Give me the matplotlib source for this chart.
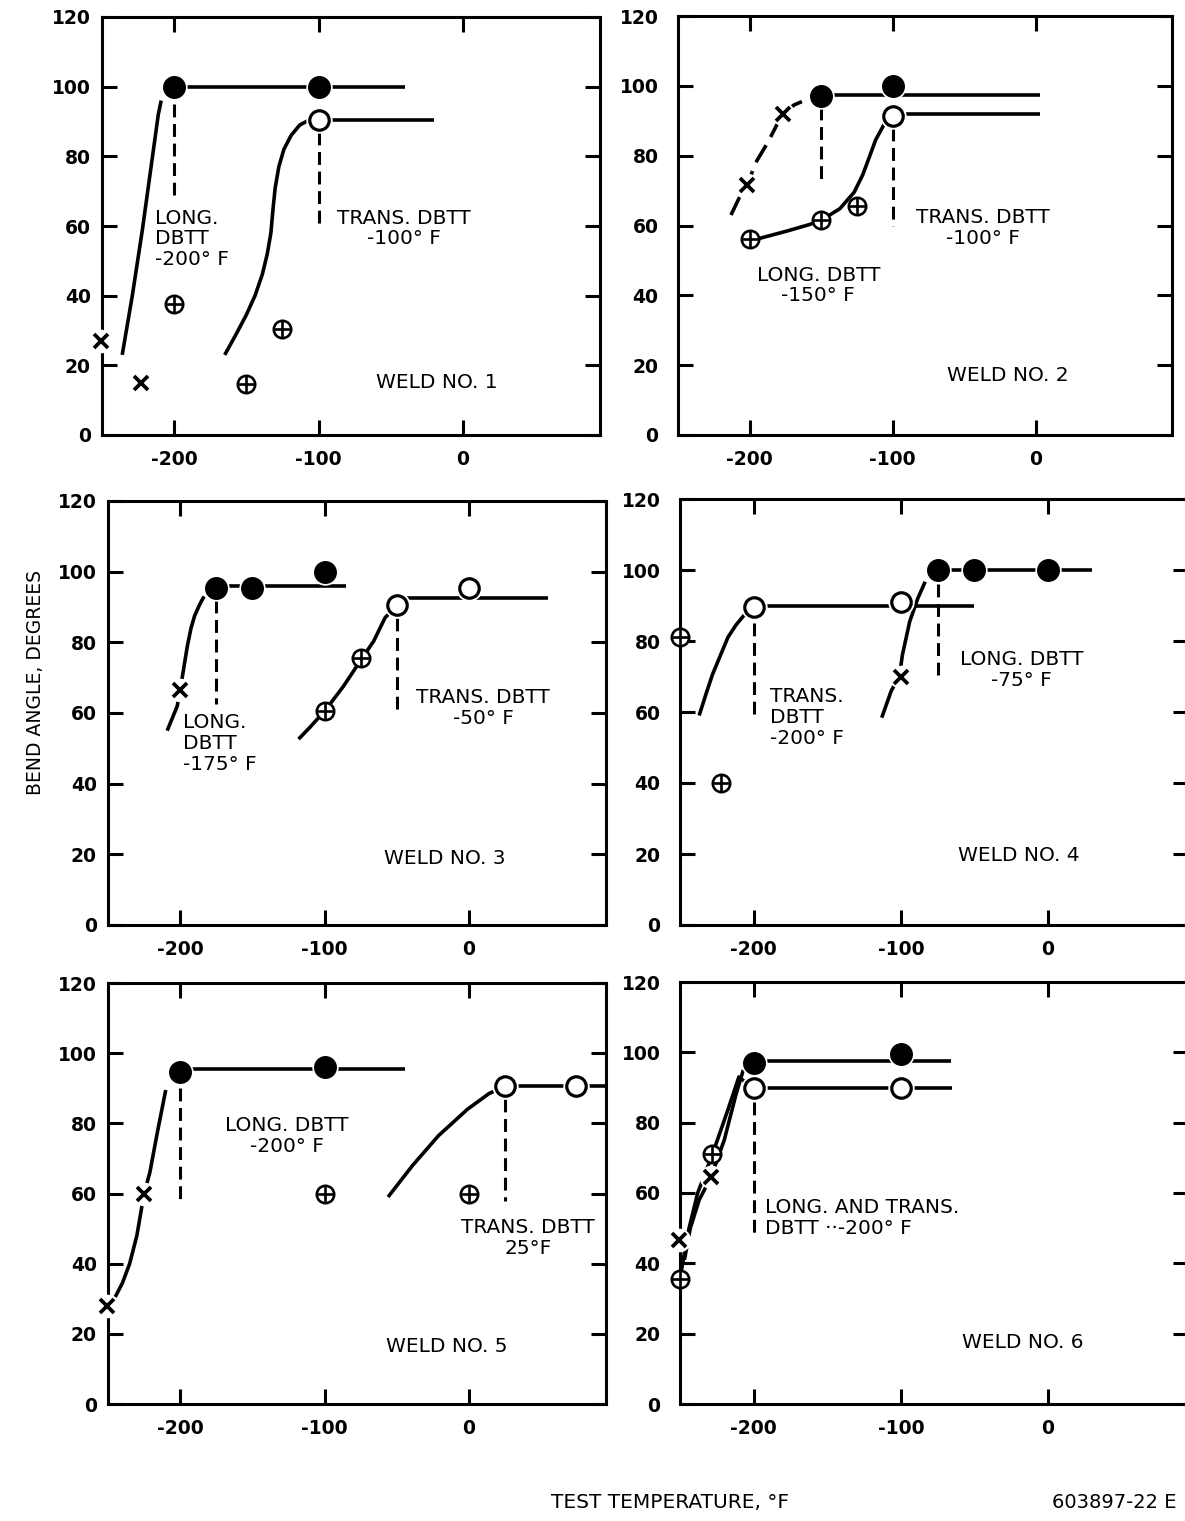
import matplotlib
matplotlib.use("Agg")
import matplotlib.pyplot as plt

plt.rcParams['font.family'] = ['DejaVu Sans']
plt.rcParams['axes.unicode_minus'] = False

# ---------------- data ----------------
XTICKS = [-200, -100, 0]
YTICKS = [0, 20, 40, 60, 80, 100, 120]
XLIM = (-250, 95)
YLIM = (0, 120)

# Weld 1
w1_long_ok_x = [-200, -100]; w1_long_ok_y = [100, 100]
w1_long_cr_x = [-251, -223]; w1_long_cr_y = [27, 15]
w1_trans_ok_x = [-100]; w1_trans_ok_y = [90.5]
w1_trans_cr_x = [-200, -150, -125]; w1_trans_cr_y = [37.5, 14.6, 30.5]
w1_long_curve_x = [-236, -229, -222, -215, -211, -209]; w1_long_curve_y = [23, 40, 59, 80, 92, 96]
w1_long_shelf_x = [-200, -40]; w1_long_shelf_y = [100, 100]
w1_trans_curve_x = [-165, -157, -150, -144, -139, -135.5, -133, -131.5, -130,
                    -127.5, -124, -119, -113, -107, -102]
w1_trans_curve_y = [23, 29, 34.5, 40, 46, 52, 58, 65, 71, 77, 82, 86, 89, 90.3, 90.8]
w1_trans_shelf_x = [-100, -20]; w1_trans_shelf_y = [90.5, 90.5]
w1_dbtt_x = [-200, -100]; w1_dbtt_top = [95, 87]; w1_dbtt_bot = [69, 60]

# Weld 2
w2_long_ok_x = [-150, -100]; w2_long_ok_y = [97, 100]
w2_long_cr_x = [-202, -177]; w2_long_cr_y = [71.5, 92]
w2_trans_ok_x = [-100]; w2_trans_ok_y = [91.5]
w2_trans_cr_x = [-200, -150, -125]; w2_trans_cr_y = [56, 61.5, 65.5]
w2_long_curve_x = [-213, -206, -202, -195, -187, -177, -169, -159, -150]
w2_long_curve_y = [63, 69, 71.5, 78.5, 84, 92, 94.5, 96.3, 97]
w2_long_shelf_x = [-150, 3]; w2_long_shelf_y = [97.5, 97.5]
w2_trans_curve_x = [-200, -195, -174, -158, -150, -137, -127, -121, -116, -112, -106, -100]
w2_trans_curve_y = [56, 56.1, 58.4, 60.3, 61.5, 64.8, 69.5, 74.5, 80, 84.5, 89, 91.5]
w2_trans_shelf_x = [-100, 3]; w2_trans_shelf_y = [92, 92]
w2_dbtt_x = [-150, -100]; w2_dbtt_top = [94, 88]; w2_dbtt_bot = [71.5, 60]

# Weld 3
w3_long_ok_x = [-175, -150, -100]; w3_long_ok_y = [95.5, 95.5, 100]
w3_long_cr_x = [-200]; w3_long_cr_y = [66.5]
w3_trans_ok_x = [-50, 0]; w3_trans_ok_y = [90.5, 95.5]
w3_trans_cr_x = [-100, -75]; w3_trans_cr_y = [60.5, 75.5]
w3_long_curve_x = [-209, -202, -199, -197, -195, -192.5, -190, -186.5, -183.5]
w3_long_curve_y = [55, 62, 69, 74, 79, 84, 87.5, 90.7, 93]
w3_long_shelf_x = [-175, -85]; w3_long_shelf_y = [96, 96]
w3_trans_curve_x = [-118, -110, -100, -87, -74, -66, -58, -49.5]
w3_trans_curve_y = [52.6, 56, 60.5, 67.5, 75.5, 80.3, 87, 90.5]
w3_trans_shelf_x = [-50, 55]; w3_trans_shelf_y = [92.5, 92.5]
w3_dbtt_x = [-175, -50]; w3_dbtt_top = [92, 87]; w3_dbtt_bot = [62.5, 60.5]

# Weld 4
w4_long_ok_x = [-75, -50, 0]; w4_long_ok_y = [100, 100, 100]
w4_long_cr_x = [-100]; w4_long_cr_y = [70]
w4_trans_ok_x = [-200, -100]; w4_trans_ok_y = [89.5, 91]
w4_trans_cr_x = [-250, -222]; w4_trans_cr_y = [81, 40]
w4_long_curve_x = [-113, -106.5, -101, -99, -94, -88.5, -83.5]
w4_long_curve_y = [58.4, 66, 70, 76, 85.5, 92, 96.7]
w4_long_shelf_x = [-75, 30]; w4_long_shelf_y = [100, 100]
w4_trans_curve_x = [-237, -232, -228, -222, -217.5, -212, -207, -200]
w4_trans_curve_y = [59, 65.5, 70.5, 76.5, 81, 84.5, 87, 89.5]
w4_trans_shelf_x = [-200, -50]; w4_trans_shelf_y = [90, 90]
w4_dbtt_x = [-200, -75]; w4_dbtt_top = [85, 96]; w4_dbtt_bot = [59.5, 70.5]

# Weld 5
w5_long_ok_x = [-200, -100]; w5_long_ok_y = [94.5, 96]
w5_long_cr_x = [-251, -225]; w5_long_cr_y = [28, 60]
w5_trans_ok_x = [25, 74]; w5_trans_ok_y = [90.5, 90.5]
w5_trans_cr_x = [-100, 0]; w5_trans_cr_y = [60, 60]
w5_long_curve_x = [-245, -240, -235, -230, -225, -221, -216, -210]
w5_long_curve_y = [30.5, 34.5, 40, 48, 60, 66, 77, 89.5]
w5_long_shelf_x = [-200, -44]; w5_long_shelf_y = [95.5, 95.5]
w5_trans_curve_x = [-56, -39, -21, -1, 14, 25]
w5_trans_curve_y = [59, 68, 76.5, 84, 88.5, 90.5]
w5_trans_shelf_x = [25, 94]; w5_trans_shelf_y = [90.7, 90.7]
w5_dbtt_x = [-200, 25]; w5_dbtt_top = [90, 87]; w5_dbtt_bot = [57.5, 58]

# Weld 6
w6_long_ok_x = [-200, -100]; w6_long_ok_y = [97, 99.5]
w6_long_cr_x = [-251, -229]; w6_long_cr_y = [46.5, 64.5]
w6_trans_ok_x = [-200, -100]; w6_trans_ok_y = [90, 90]
w6_trans_cr_x = [-250, -228]; w6_trans_cr_y = [35.5, 71]
w6_long_curve_x = [-247, -243, -237, -229, -220, -212, -207]
w6_long_curve_y = [41, 50, 58, 64.5, 75, 88, 95]
w6_long_shelf_x = [-200, -66]; w6_long_shelf_y = [97.5, 97.5]
w6_trans_curve_x = [-250, -245, -238, -228, -218, -210, -204]
w6_trans_curve_y = [35.5, 48, 60, 71, 83, 93, 91]
w6_trans_shelf_x = [-200, -65]; w6_trans_shelf_y = [90, 90]
w6_dbtt_x = [-200]; w6_dbtt_top = [86]; w6_dbtt_bot = [48.5]

TITLES = ["WELD NO. 1", "WELD NO. 2", "WELD NO. 3",
          "WELD NO. 4", "WELD NO. 5", "WELD NO. 6"]

# ---------------- tables built from the arrays ----------------
welds = [
    dict(lo=(w1_long_ok_x, w1_long_ok_y), lc=(w1_long_cr_x, w1_long_cr_y),
         to=(w1_trans_ok_x, w1_trans_ok_y), tc=(w1_trans_cr_x, w1_trans_cr_y),
         lcur=(w1_long_curve_x, w1_long_curve_y), lsh=(w1_long_shelf_x, w1_long_shelf_y),
         tcur=(w1_trans_curve_x, w1_trans_curve_y), tsh=(w1_trans_shelf_x, w1_trans_shelf_y),
         dbtt=(w1_dbtt_x, w1_dbtt_top, w1_dbtt_bot), ldash=False),
    dict(lo=(w2_long_ok_x, w2_long_ok_y), lc=(w2_long_cr_x, w2_long_cr_y),
         to=(w2_trans_ok_x, w2_trans_ok_y), tc=(w2_trans_cr_x, w2_trans_cr_y),
         lcur=(w2_long_curve_x, w2_long_curve_y), lsh=(w2_long_shelf_x, w2_long_shelf_y),
         tcur=(w2_trans_curve_x, w2_trans_curve_y), tsh=(w2_trans_shelf_x, w2_trans_shelf_y),
         dbtt=(w2_dbtt_x, w2_dbtt_top, w2_dbtt_bot), ldash=True),
    dict(lo=(w3_long_ok_x, w3_long_ok_y), lc=(w3_long_cr_x, w3_long_cr_y),
         to=(w3_trans_ok_x, w3_trans_ok_y), tc=(w3_trans_cr_x, w3_trans_cr_y),
         lcur=(w3_long_curve_x, w3_long_curve_y), lsh=(w3_long_shelf_x, w3_long_shelf_y),
         tcur=(w3_trans_curve_x, w3_trans_curve_y), tsh=(w3_trans_shelf_x, w3_trans_shelf_y),
         dbtt=(w3_dbtt_x, w3_dbtt_top, w3_dbtt_bot), ldash=False),
    dict(lo=(w4_long_ok_x, w4_long_ok_y), lc=(w4_long_cr_x, w4_long_cr_y),
         to=(w4_trans_ok_x, w4_trans_ok_y), tc=(w4_trans_cr_x, w4_trans_cr_y),
         lcur=(w4_long_curve_x, w4_long_curve_y), lsh=(w4_long_shelf_x, w4_long_shelf_y),
         tcur=(w4_trans_curve_x, w4_trans_curve_y), tsh=(w4_trans_shelf_x, w4_trans_shelf_y),
         dbtt=(w4_dbtt_x, w4_dbtt_top, w4_dbtt_bot), ldash=False),
    dict(lo=(w5_long_ok_x, w5_long_ok_y), lc=(w5_long_cr_x, w5_long_cr_y),
         to=(w5_trans_ok_x, w5_trans_ok_y), tc=(w5_trans_cr_x, w5_trans_cr_y),
         lcur=(w5_long_curve_x, w5_long_curve_y), lsh=(w5_long_shelf_x, w5_long_shelf_y),
         tcur=(w5_trans_curve_x, w5_trans_curve_y), tsh=(w5_trans_shelf_x, w5_trans_shelf_y),
         dbtt=(w5_dbtt_x, w5_dbtt_top, w5_dbtt_bot), ldash=False),
    dict(lo=(w6_long_ok_x, w6_long_ok_y), lc=(w6_long_cr_x, w6_long_cr_y),
         to=(w6_trans_ok_x, w6_trans_ok_y), tc=(w6_trans_cr_x, w6_trans_cr_y),
         lcur=(w6_long_curve_x, w6_long_curve_y), lsh=(w6_long_shelf_x, w6_long_shelf_y),
         tcur=(w6_trans_curve_x, w6_trans_curve_y), tsh=(w6_trans_shelf_x, w6_trans_shelf_y),
         dbtt=(w6_dbtt_x, w6_dbtt_top, w6_dbtt_bot), ldash=False),
]

# annotation layout: (text, x, y_top, ha)
notes = [
    [("LONG.\nDBTT\n-200° F", -213, 65, "left"), ("TRANS. DBTT\n-100° F", -41, 65, "center")],
    [("TRANS. DBTT\n-100° F", -37, 65, "center"), ("LONG. DBTT\n-150° F", -152, 48.5, "center")],
    [("LONG.\nDBTT\n-175° F", -198, 60, "left"), ("TRANS. DBTT\n-50° F", 10, 67, "center")],
    [("TRANS.\nDBTT\n-200° F", -189, 67, "left"), ("LONG. DBTT\n-75° F", -18, 77.5, "center")],
    [("LONG. DBTT\n-200° F", -126, 82, "center"), ("TRANS. DBTT\n25°F", 41, 53, "center")],
    [("LONG. AND TRANS.\nDBTT ··-200° F", -192, 58.5, "left")],
]
title_pos = [(-18, 15), (-20, 17), (-17, 18.8), (-20, 19.6), (-15, 16.5), (-17, 17.4)]

W, H = 1185, 1521
fig = plt.figure(figsize=(W / 100, H / 100), dpi=100)


def box(l, r, t, b):
    return [l / W, 1 - b / H, (r - l) / W, (b - t) / H]


boxes = [box(102, 600, 17, 435), box(678, 1172, 16, 435),
         box(108, 606, 501, 925), box(680, 1188, 499, 925),
         box(108, 606, 983, 1404), box(680, 1188, 982, 1404)]

LW = 2.6
ANN = 14.5
for i, (wd, bx) in enumerate(zip(welds, boxes)):
    ax = fig.add_axes(bx)
    ax.set_xlim(*XLIM)
    ax.set_ylim(*YLIM)
    ax.set_xticks(XTICKS)
    ax.set_yticks(YTICKS)
    ax.set_xticklabels([str(v) for v in XTICKS], fontsize=13.5, fontweight='bold')
    ax.set_yticklabels([str(v) for v in YTICKS], fontsize=13.5, fontweight='bold')
    ypad = 8 if i % 2 == 0 else 14
    ax.tick_params(axis='both', direction='in', length=11, width=2.2,
                   top=True, right=True)
    ax.tick_params(axis='x', pad=11)
    ax.tick_params(axis='y', pad=ypad)
    for sp in ax.spines.values():
        sp.set_linewidth(2.2)

    # curves
    ls = (0, (5.5, 2.6)) if wd['ldash'] else '-'
    ax.plot(*wd['lcur'], color='black', lw=LW, ls=ls, zorder=2,
            solid_capstyle='butt', solid_joinstyle='round', clip_on=False)
    ax.plot(*wd['lsh'], color='black', lw=LW, zorder=2, solid_capstyle='butt')
    ax.plot(*wd['tcur'], color='black', lw=LW, zorder=2,
            solid_capstyle='butt', solid_joinstyle='round', clip_on=False)
    ax.plot(*wd['tsh'], color='black', lw=LW, zorder=2, solid_capstyle='butt')
    # DBTT dashed verticals
    dx, dt, db = wd['dbtt']
    for x, t, b in zip(dx, dt, db):
        ax.plot([x, x], [t, b], color='black', lw=2.2, ls=(0, (4.2, 2.2)),
                zorder=2, dash_capstyle='butt')

    # white halos behind circles and crosses
    for key, ms in (('lo', 19), ('to', 19), ('lc', 17)):
        ax.plot(*wd[key], 'o', ms=ms, mfc='white', mec='white', mew=0,
                zorder=3, clip_on=False)
    # markers
    ax.plot(*wd['lo'], 'o', ms=15.5, mfc='black', mec='black', mew=1,
            zorder=5, clip_on=False)
    ax.plot(*wd['to'], 'o', ms=14, mfc='white', mec='black', mew=2.3,
            zorder=5, clip_on=False)
    ax.plot(*wd['tc'], 'o', ms=12.5, mfc='white', mec='black', mew=1.9,
            zorder=5, clip_on=False)
    ax.plot(*wd['tc'], '+', ms=12.5, mec='black', mew=1.9,
            zorder=6, clip_on=False)
    ax.plot(*wd['lc'], 'x', ms=10, mec='black', mew=2.7,
            zorder=5, clip_on=False)

    for txt, x, y, ha in notes[i]:
        ax.text(x, y, txt, ha=ha, va='top', multialignment=ha,
                fontsize=ANN, linespacing=1.12, zorder=7)
    tx, ty = title_pos[i]
    ax.text(tx, ty, TITLES[i], ha='center', va='center', fontsize=ANN, zorder=7)

fig.text(36 / W, 1 - 683 / H, "BEND ANGLE, DEGREES", rotation=90,
         ha='center', va='center', fontsize=13.5)
fig.text(670 / W, 1 - 1503 / H, "TEST TEMPERATURE, °F",
         ha='center', va='center', fontsize=14.5)
fig.text(1177 / W, 1 - 1503 / H, "603897-22 E",
         ha='right', va='center', fontsize=14)

fig.savefig("out.png", dpi=100)
